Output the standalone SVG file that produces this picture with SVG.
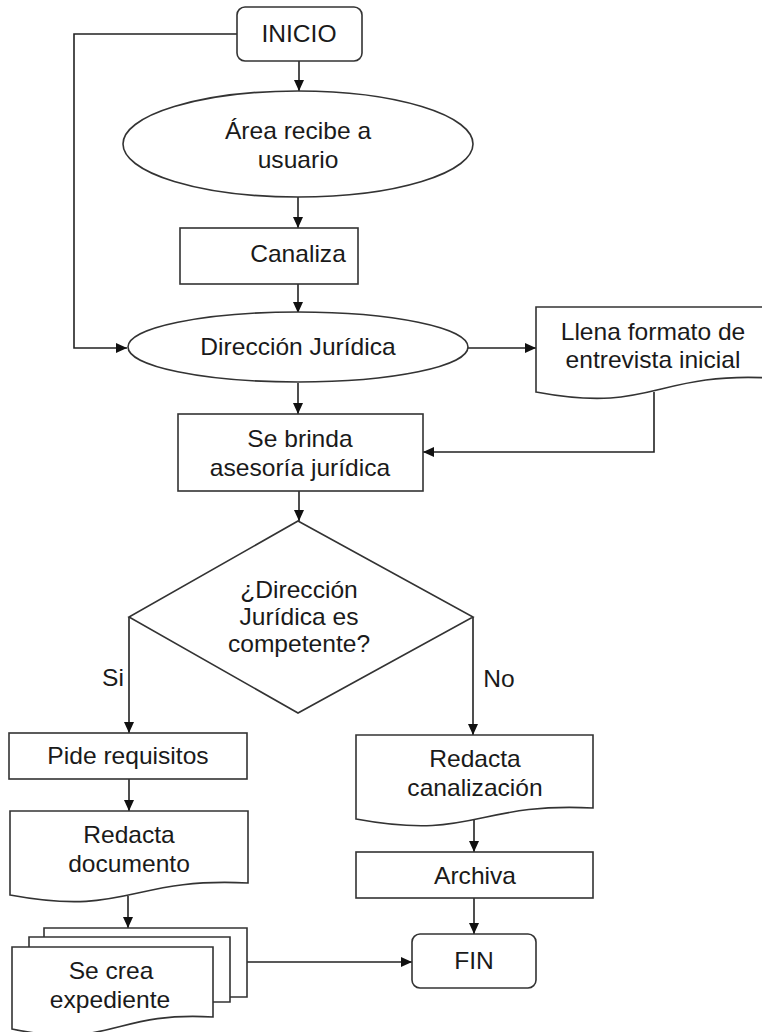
<svg xmlns="http://www.w3.org/2000/svg" width="762" height="1032" viewBox="0 0 762 1032">
  <defs>
    <marker id="arrow" viewBox="0 0 11 10" refX="11" refY="5" markerWidth="11" markerHeight="10" markerUnits="userSpaceOnUse" orient="auto">
      <path d="M0,0 L11,5 L0,10 z" fill="#111"/>
    </marker>
    <style>
      .shape { fill: #fff; stroke: #333; stroke-width: 1.6; }
      .line { fill: none; stroke: #222; stroke-width: 1.6; }
      .arr { marker-end: url(#arrow); }
      text { font-family: "Liberation Sans", Arial, sans-serif; font-size: 23px; fill: #1a1a1a; text-anchor: middle; }
    </style>
  </defs>
  <rect width="762" height="1032" fill="#fff"/>

  <!-- connectors -->
  <g id="connectors">
    <path class="line arr" d="M237,34 H74 V348 H127"/>
    <path class="line arr" d="M299,61 V91"/>
    <path class="line arr" d="M298,197 V228"/>
    <path class="line arr" d="M298,284 V313"/>
    <path class="line arr" d="M468,348 H536"/>
    <path class="line arr" d="M298,383 V414"/>
    <path class="line arr" d="M654,392 V452 H423"/>
    <path class="line arr" d="M299,491 V521"/>
    <path class="line arr" d="M129,617 V733"/>
    <path class="line arr" d="M473,617 V735"/>
    <path class="line arr" d="M129,779 V811"/>
    <path class="line arr" d="M128,896 V928"/>
    <path class="line arr" d="M474,819 V852"/>
    <path class="line arr" d="M474,898 V934"/>
    <path class="line arr" d="M247,962 H412"/>
    <text transform="translate(113 686) scale(1.07 1)">Si</text>
    <text transform="translate(499 687) scale(1.07 1)">No</text>
  </g>

  <g id="inicio">
    <rect class="shape" x="237" y="7" width="125" height="54" rx="8"/>
    <text transform="translate(299 42) scale(1.07 1)">INICIO</text>
  </g>

  <g id="area-recibe">
    <ellipse class="shape" cx="298" cy="144" rx="175" ry="53"/>
    <text transform="translate(298 139) scale(1.07 1)">Área recibe a</text>
    <text transform="translate(298 168) scale(1.07 1)">usuario</text>
  </g>

  <g id="canaliza">
    <rect class="shape" x="180" y="228" width="178" height="56"/>
    <text transform="translate(298 262) scale(1.07 1)">Canaliza</text>
  </g>

  <g id="direccion-juridica">
    <ellipse class="shape" cx="298" cy="347" rx="170" ry="35"/>
    <text transform="translate(298 355) scale(1.07 1)">Dirección Jurídica</text>
  </g>

  <g id="llena-formato">
    <path class="shape" d="M536,307 H770 V378 C653,372 653,414 536,392 Z"/>
    <text transform="translate(653 340) scale(1.07 1)">Llena formato de</text>
    <text transform="translate(653 368) scale(1.07 1)">entrevista inicial</text>
  </g>

  <g id="se-brinda">
    <rect class="shape" x="178" y="414" width="245" height="77"/>
    <text transform="translate(300 447) scale(1.07 1)">Se brinda</text>
    <text transform="translate(300 476) scale(1.07 1)">asesoría jurídica</text>
  </g>

  <g id="decision">
    <path class="shape" d="M298,521 L473,617 L298,713 L129,617 Z"/>
    <text transform="translate(299 598) scale(1.07 1)">¿Dirección</text>
    <text transform="translate(299 625) scale(1.07 1)">Jurídica es</text>
    <text transform="translate(299 652) scale(1.07 1)">competente?</text>
  </g>

  <g id="pide-requisitos">
    <rect class="shape" x="9" y="733" width="238" height="46"/>
    <text transform="translate(128 764) scale(1.07 1)">Pide requisitos</text>
  </g>

  <g id="redacta-documento">
    <path class="shape" d="M10,811 H248 V883 C129,877 129,917 10,895 Z"/>
    <text transform="translate(129 843) scale(1.07 1)">Redacta</text>
    <text transform="translate(129 872) scale(1.07 1)">documento</text>
  </g>

  <g id="se-crea-expediente">
    <path class="shape" d="M44,937 V928 H247 V997 H230"/>
    <path class="shape" d="M29,947 V937 H230 V1002 H213"/>
    <path class="shape" d="M12,947 H213 V1017 C112,1011 112,1050 12,1029 Z"/>
    <text transform="translate(111 979) scale(1.07 1)">Se crea</text>
    <text transform="translate(110 1008) scale(1.07 1)">expediente</text>
  </g>

  <g id="redacta-canalizacion">
    <path class="shape" d="M356,735 H593 V808 C475,802 475,841 356,819 Z"/>
    <text transform="translate(475 767) scale(1.07 1)">Redacta</text>
    <text transform="translate(475 796) scale(1.07 1)">canalización</text>
  </g>

  <g id="archiva">
    <rect class="shape" x="356" y="852" width="237" height="46"/>
    <text transform="translate(475 884) scale(1.07 1)">Archiva</text>
  </g>

  <g id="fin">
    <rect class="shape" x="412" y="934" width="124" height="54" rx="8"/>
    <text transform="translate(474 969) scale(1.07 1)">FIN</text>
  </g>
</svg>
